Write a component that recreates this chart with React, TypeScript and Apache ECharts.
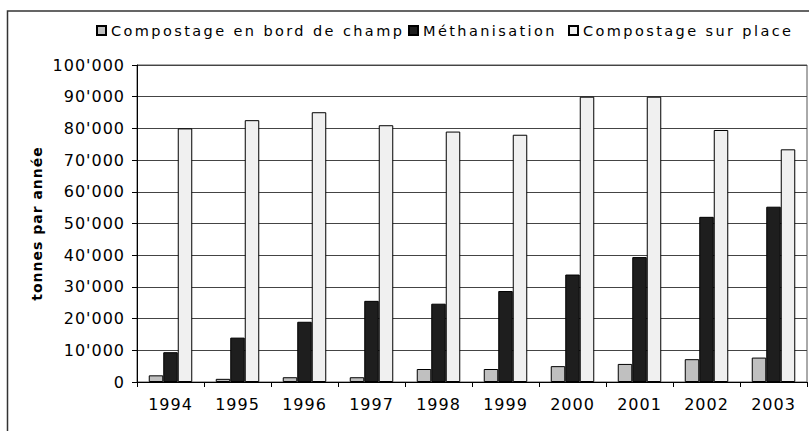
import React, { useEffect, useRef } from 'react';
import * as echarts from 'echarts';

const years = ['1994', '1995', '1996', '1997', '1998', '1999', '2000', '2001', '2002', '2003'];
const bordChamp = [2100, 1000, 1500, 1500, 4100, 4100, 5000, 5700, 7200, 7700];
const methanisation = [9400, 14000, 19000, 25600, 24700, 28700, 33900, 39400, 52100, 55300];
const surPlace = [80000, 82600, 85100, 81000, 79000, 78000, 90000, 90000, 79500, 73400];
const seriesNames = ['Compostage en bord de champ', 'Méthanisation', 'Compostage sur place'];
const seriesColors = ['#c0c0c0', '#1e1e1e', '#f0f0f0'];
const axisTitle = 'tonnes par année';
const yMin = 0;
const yMax = 100000;
const yStep = 10000;

const fmt = (v: number) => {
  if (v === 0) return '0';
  const th = Math.floor(v / 1000);
  const rest = String(v % 1000).padStart(3, '0');
  return `${th}'${rest}`;
};

export default function App() {
  const ref = useRef<HTMLDivElement>(null);
  useEffect(() => {
    const chart = echarts.init(ref.current!, null, { renderer: 'svg' });
    const font = 'DejaVu Sans';
    const datasets = [bordChamp, methanisation, surPlace];
    chart.setOption({
      animation: false,
      backgroundColor: '#fff',
      graphic: [
        {
          type: 'rect',
          shape: { x: 7.5, y: 11, width: 900, height: 500 },
          style: { fill: 'none', stroke: '#333', lineWidth: 1.5 },
          silent: true,
        },
      ],
      legend: [
        { left: 96, top: 23 },
        { left: 408, top: 23 },
        { left: 568, top: 23 },
      ].map((p, i) => ({
        ...p,
        padding: 0,
        data: [seriesNames[i]],
        icon: 'rect',
        itemWidth: 9,
        itemHeight: 9,
        textStyle: { fontSize: 14.5, fontFamily: font, color: '#000' },
      })),
      grid: {
        left: 137,
        right: 2,
        top: 65,
        bottom: 49,
        show: true,
        borderColor: '#555',
        borderWidth: 1,
        outerBoundsMode: 'none',
      },
      xAxis: {
        type: 'category',
        data: years,
        axisLine: { lineStyle: { color: '#000', width: 1 } },
        axisTick: { show: true, length: 5, lineStyle: { color: '#000' } },
        axisLabel: { interval: 0, fontSize: 16, fontFamily: font, color: '#000', margin: 14 },
      },
      yAxis: {
        type: 'value',
        min: yMin,
        max: yMax,
        interval: yStep,
        name: axisTitle,
        nameLocation: 'middle',
        nameGap: 93,
        nameTextStyle: { fontSize: 14, fontWeight: 'bold', fontFamily: font, color: '#000' },
        axisLine: { show: true, lineStyle: { color: '#000', width: 1 } },
        axisTick: { show: true, length: 5, lineStyle: { color: '#000' } },
        axisLabel: { fontSize: 16, fontFamily: font, color: '#000', margin: 12, formatter: fmt },
        splitLine: { show: true, lineStyle: { color: '#444', width: 1 } },
      },
      series: datasets.map((d, i) => ({
        type: 'bar',
        name: seriesNames[i],
        data: d,
        barWidth: 14.5,
        barGap: '0%',
        itemStyle: { color: seriesColors[i], borderColor: '#000', borderWidth: 1 },
      })),
    });
    const applySpacing = () => {
      ref.current?.querySelectorAll('text').forEach((t) => {
        const s = t.textContent || '';
        let ls = '1px';
        if (seriesNames.includes(s)) ls = '2.4px';
        else if (s === axisTitle) ls = '1px';
        (t as SVGTextElement).style.letterSpacing = ls;
      });
    };
    applySpacing();
    chart.on('finished', applySpacing);
    return () => chart.dispose();
  }, []);
  return (
    <div
      ref={ref}
      style={{ position: 'fixed', left: 0, top: 0, width: 809, height: 431, background: '#fff' }}
    />
  );
}
